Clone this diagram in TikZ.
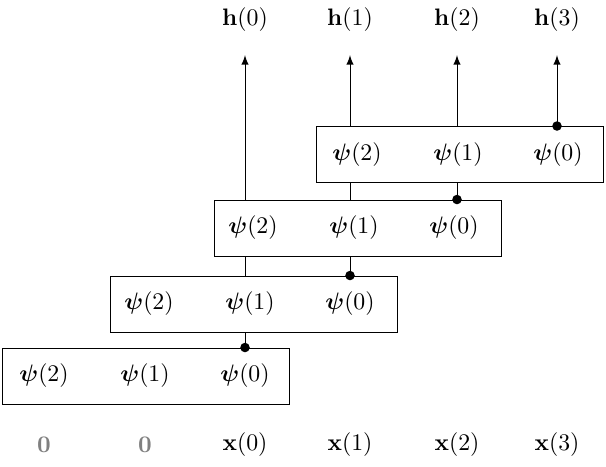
\documentclass[tikz,border=0pt]{standalone}
\usepackage{amsmath,bm}
\usetikzlibrary{calc}
\begin{document}
\begin{tikzpicture}[x=0.42pt,y=-0.42pt,>=latex,
    layer/.style={draw,fill=white,minimum width=287*0.42pt,minimum height=56*0.42pt,inner sep=0pt},
    tap/.style={inner sep=1pt}]
    \useasboundingbox (0,0) rectangle (606,466);
    % layer boxes
    \node[layer] (b1) at (145.5,376) {};
    \node[layer] (b2) at (253.5,304) {};
    \node[layer] (b3) at (357.5,228) {};
    \node[layer] (b4) at (459.5,154.5) {};
    % taps
    \foreach \b/\x/\y in {1/44/376,2/149/304,3/253/228,4/357/155}{
        \node[tap] (p\b2) at (\x,\y) {$\bm{\psi}(2)$};
        \node[tap] (p\b1) at (\x+101,\y) {$\bm{\psi}(1)$};
        \node[tap] (p\b0) at (\x+201,\y) {$\bm{\psi}(0)$};
    }
    % inputs and outputs
    \node (x0) at (245,445) {$\mathbf{x}(0)$};
    \node (x1) at (350,445) {$\mathbf{x}(1)$};
    \node (x2) at (457,445) {$\mathbf{x}(2)$};
    \node (x3) at (557,445) {$\mathbf{x}(3)$};
    \node[gray] (z1) at (44,445) {$\mathbf{0}$};
    \node[gray] (z2) at (145,445) {$\mathbf{0}$};
    \node (h0) at (245,20) {$\mathbf{h}(0)$};
    \node (h1) at (350,20) {$\mathbf{h}(1)$};
    \node (h2) at (457,20) {$\mathbf{h}(2)$};
    \node (h3) at (557,20) {$\mathbf{h}(3)$};
    % connections
    \coordinate (t0) at (245,55);
    \coordinate (t1) at (350,55);
    \coordinate (t2) at (457,55);
    \coordinate (t3) at (557,55);
    \fill (b1.north -| x0) circle (2pt);
    \fill (b2.north -| x1) circle (2pt);
    \fill (b3.north -| x2) circle (2pt);
    \fill (b4.north -| x3) circle (2pt);
    \draw (b1.north -| x0) -- (b2.south -| x0);
    \draw (b2.north -| x0) -- (b3.south -| x0);
    \draw[->] (b3.north -| x0) -- (t0);
    \draw (b2.north -| x1) -- (b3.south -| x1);
    \draw (b3.north -| x1) -- (b4.south -| x1);
    \draw[->] (b4.north -| x1) -- (t1);
    \draw (b3.north -| x2) -- (b4.south -| x2);
    \draw[->] (b4.north -| x2) -- (t2);
    \draw[->] (b4.north -| x3) -- (t3);
\end{tikzpicture}
\end{document}
